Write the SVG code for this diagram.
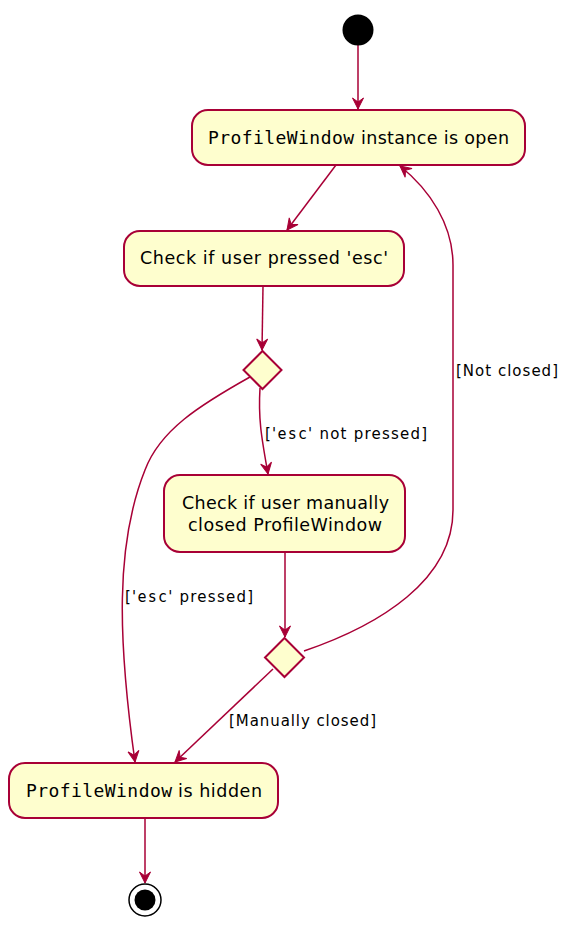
<svg xmlns="http://www.w3.org/2000/svg" width="577" height="931" viewBox="0 0 577 931">
<style>
.node{fill:#FEFECE;stroke:#A80036;stroke-width:2}
.edge{fill:none;stroke:#A80036;stroke-width:1.5}
.t{font-family:"DejaVu Sans",sans-serif;font-size:17.5px;fill:#000}
.m{font-family:"DejaVu Sans Mono",monospace;font-size:18px}
.lbl{font-family:"DejaVu Sans",sans-serif;font-size:15px;fill:#000}
.lm{font-family:"DejaVu Sans Mono",monospace}
</style>
<defs>
<marker id="arr" markerUnits="userSpaceOnUse" markerWidth="14" markerHeight="14" viewBox="-12 -7 14 14" refX="0" refY="0" orient="auto">
<path d="M0,0 L-11,-5.5 L-7,0 L-11,5.5 Z" fill="#A80036" stroke="#A80036" stroke-width="1"/>
</marker>
</defs>
<rect width="577" height="931" fill="#FFFFFF"/>
<g id="connectors">
<path class="edge" d="M358,45 L358,109" marker-end="url(#arr)"/>
<path class="edge" d="M336,165 L287,230" marker-end="url(#arr)"/>
<path class="edge" d="M263,286 L262,350" marker-end="url(#arr)"/>
<path class="edge" d="M260,388 C258,420 262,440 268,474" marker-end="url(#arr)"/>
<path class="edge" d="M285,552 L285,637" marker-end="url(#arr)"/>
<path class="edge" d="M304,651 C380,625 453,580 453,510 L453,265 C453,225 430,190 400,166" marker-end="url(#arr)"/>
<path class="edge" d="M273,669 L175,762" marker-end="url(#arr)"/>
<path class="edge" d="M250,377 C200,405 160,430 145,470 C115,545 118,640 135,762" marker-end="url(#arr)"/>
<path class="edge" d="M145,818 L145,883" marker-end="url(#arr)"/>
<text class="lbl" x="265" y="439" textLength="162" lengthAdjust="spacing">['<tspan class="lm">esc</tspan>' not pressed]</text>
<text class="lbl" x="456" y="376" textLength="102" lengthAdjust="spacing">[Not closed]</text>
<text class="lbl" x="125" y="602" textLength="128" lengthAdjust="spacing">['<tspan class="lm">esc</tspan>' pressed]</text>
<text class="lbl" x="229" y="726" textLength="147" lengthAdjust="spacing">[Manually closed]</text>
</g>
<g id="start"><circle cx="358" cy="30" r="15.5" fill="#000"/></g>
<g id="n1">
<rect class="node" x="192" y="110" width="333" height="55" rx="16"/>
<text class="t" x="208" y="144"><tspan class="m" textLength="146">ProfileWindow</tspan></text>
<text class="t" x="361" y="144" textLength="148" lengthAdjust="spacing">instance is open</text>
</g>
<g id="n2">
<rect class="node" x="124" y="231" width="280" height="55" rx="16"/>
<text class="t" x="140" y="264" textLength="248" lengthAdjust="spacing">Check if user pressed 'esc'</text>
</g>
<g id="d1"><path class="node" d="M262.5,351 L281.5,370 L262.5,389 L243.5,370 Z"/></g>
<g id="n3">
<rect class="node" x="164" y="475" width="241" height="77" rx="16"/>
<text class="t" x="182" y="509" textLength="207" lengthAdjust="spacing">Check if user manually</text>
<text class="t" x="188" y="531" textLength="194" lengthAdjust="spacing">closed ProfileWindow</text>
</g>
<g id="d2"><path class="node" d="M284.5,638 L304,657.5 L284.5,677 L265,657.5 Z"/></g>
<g id="n4">
<rect class="node" x="9" y="763" width="269" height="55" rx="16"/>
<text class="t" x="26" y="797"><tspan class="m" textLength="146">ProfileWindow</tspan></text>
<text class="t" x="178" y="797" textLength="84" lengthAdjust="spacing">is hidden</text>
</g>
<g id="end">
<circle cx="145" cy="900" r="16" fill="none" stroke="#000" stroke-width="1.5"/>
<circle cx="145" cy="900" r="10.5" fill="#000"/>
</g>
</svg>
